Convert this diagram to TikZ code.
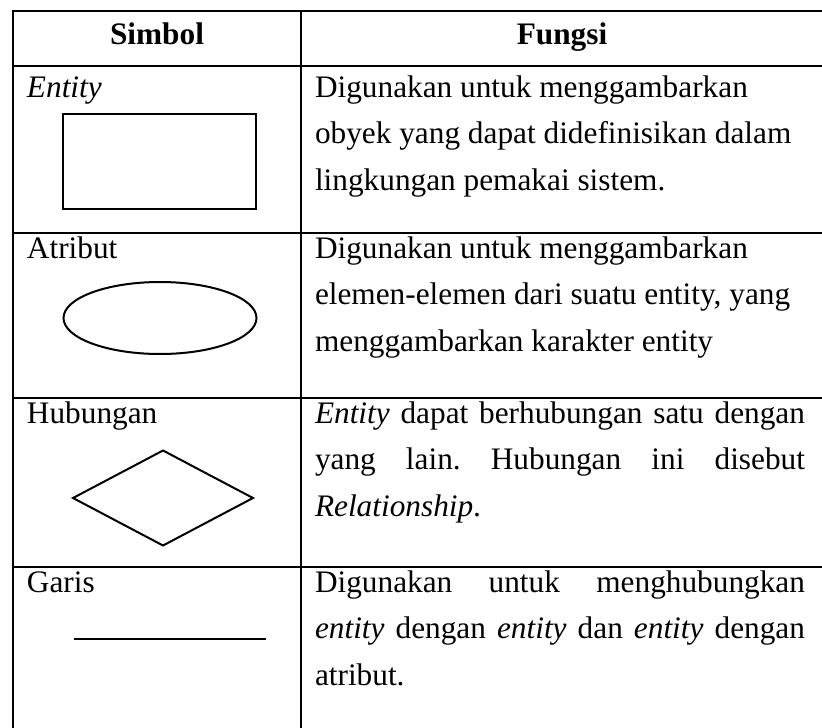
\documentclass[tikz,border=0pt]{standalone}
\usepackage{fontspec}
\setmainfont{Liberation Serif}
\frenchspacing
\usetikzlibrary{shapes.geometric}
\begin{document}
\begin{tikzpicture}[x=1pt,y=-1pt,
  rule/.style={line width=2.6pt},
  sym/.style={draw,line width=2pt,inner sep=0pt,outer sep=0pt},
  txt/.style={anchor=base west,inner sep=0pt,outer sep=0pt,font=\fontsize{31.3}{37}\selectfont},
  head/.style={anchor=base,inner sep=0pt,outer sep=0pt,font=\fontsize{31.3}{37}\selectfont\bfseries}]
\useasboundingbox (0,0) rectangle (822,728);
% table rules
\draw[rule] (13,11) -- (822,11);
\draw[rule] (13,66) -- (822,66);
\draw[rule] (13,233) -- (822,233);
\draw[rule] (13,398) -- (822,398);
\draw[rule] (13,567) -- (822,567);
\draw[rule] (13,9.7) -- (13,728);
\draw[rule] (301,9.7) -- (301,728);
% header
\node[head] (hSimbol) at (157,44) {Simbol};
\node[head] (hFungsi) at (562,44) {Fungsi};
% row: entity
\node[txt] (sEntity) at (27,97) {\textit{Entity}};
\node[sym,rectangle,minimum width=193pt,minimum height=95pt] (rectEntity) at (159.5,161.5) {};
\node[txt] (fE1) at (315,97) {Digunakan untuk menggambarkan};
\node[txt] (fE2) at (315,143.5) {obyek yang dapat didefinisikan dalam};
\node[txt] (fE3) at (315,190) {lingkungan pemakai sistem.};
% row: atribut
\node[txt] (sAtribut) at (27,258) {Atribut};
\node[sym,ellipse,minimum width=193pt,minimum height=72pt] (ellAtribut) at (160,318) {};
\node[txt] (fA1) at (315,258) {Digunakan untuk menggambarkan};
\node[txt] (fA2) at (315,304.5) {elemen-elemen dari suatu entity, yang};
\node[txt] (fA3) at (315,351) {menggambarkan karakter entity};
% row: hubungan
\node[txt] (sHub) at (27,423) {Hubungan};
\node[sym,diamond,minimum width=180pt,minimum height=95pt] (diaHub) at (163,498) {};
\node[txt] (fH1) at (315,423) {\makebox[490pt][s]{\textit{Entity} dapat berhubungan satu dengan}};
\node[txt] (fH2) at (315,469.5) {\makebox[490pt][s]{yang lain. Hubungan ini disebut}};
\node[txt] (fH3) at (315,516) {\textit{Relationship}.};
% row: garis
\node[txt] (sGaris) at (27,592) {Garis};
\coordinate (gL) at (74,639);
\coordinate (gR) at (266,639);
\draw[line width=2pt] (gL) -- (gR);
\node[txt] (fG1) at (315,592) {\makebox[490pt][s]{Digunakan untuk menghubungkan}};
\node[txt] (fG2) at (315,638.5) {\makebox[490pt][s]{\textit{entity} dengan \textit{entity} dan \textit{entity} dengan}};
\node[txt] (fG3) at (315,685) {atribut.};
\end{tikzpicture}
\end{document}
